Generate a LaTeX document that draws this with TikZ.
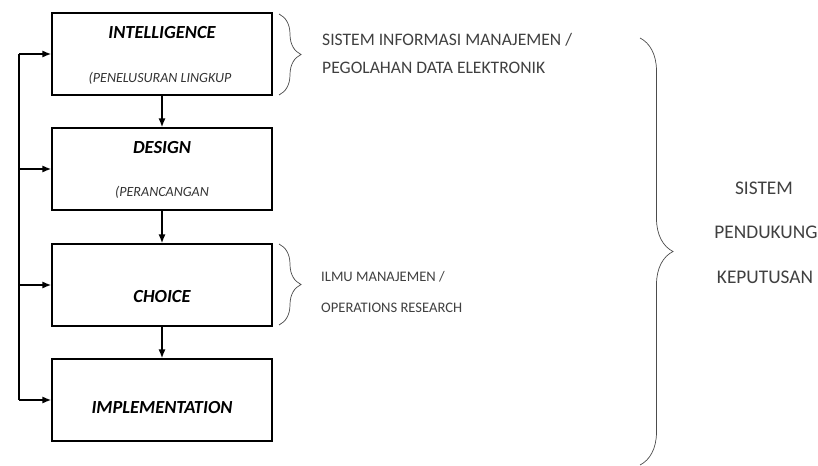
\documentclass[tikz,border=0pt]{standalone}
\usepackage{fontspec}
\setmainfont{Carlito}
\usetikzlibrary{decorations.pathreplacing,arrows.meta}

\begin{document}
\begin{tikzpicture}[x=0.02cm,y=-0.02cm,
tahap/.style={rectangle,draw,line width=0.9pt,minimum width=4.4cm,minimum height=1.64cm},
judul/.style={font=\fontsize{10.5}{12}\selectfont\bfseries\itshape},
sub/.style={font=\fontsize{8}{9}\selectfont\itshape,text=black!80},
ket/.style={anchor=west,font=\fontsize{10}{12}\selectfont,text=black!75},
panah/.style={-{Latex[length=5pt,width=4pt]},line width=0.8pt},
kurung/.style={decorate,draw=black!70,thin}]
\useasboundingbox (0,0) rectangle (818,466);
% kotak tahapan
\node [tahap] (intel) at (162,54) {};
\node [tahap] (design) at (162,169) {};
\node [tahap] (choice) at (162,285) {};
\node [tahap] (impl) at (162,400) {};
\node [judul] (intelj) at (162,33) {INTELLIGENCE};
\node [sub] (intels) at (160,78) {(PENELUSURAN LINGKUP};
\node [judul] (designj) at (162,148) {DESIGN};
\node [sub] (designs) at (162,192) {(PERANCANGAN};
\node [judul] (choicej) at (162,297) {CHOICE};
\node [judul] (implj) at (162,408) {IMPLEMENTATION};
% panah turun
\draw [panah] (intel) -- (design);
\draw [panah] (design) -- (choice);
\draw [panah] (choice) -- (impl);
% garis balik
\coordinate (balik) at (19,400);
\draw [line width=0.8pt] (intel.west -| balik) -- (balik);
\draw [panah] (intel.west -| balik) -- (intel.west);
\draw [panah] (design.west -| balik) -- (design.west);
\draw [panah] (choice.west -| balik) -- (choice.west);
\draw [panah] (balik) -- (impl.west);
% kurung kurawal
\coordinate (k1a) at (279,14);
\coordinate (k1b) at (279,95);
\draw [kurung,decoration={brace,amplitude=0.44cm}] (k1a) -- (k1b);
\node [ket] (sim) at (316,40) {SISTEM INFORMASI MANAJEMEN /};
\node [ket] (pde) at (316,68) {PEGOLAHAN DATA ELEKTRONIK};
\coordinate (k2a) at (279,244);
\coordinate (k2b) at (279,325);
\draw [kurung,decoration={brace,amplitude=0.44cm}] (k2a) -- (k2b);
\node [ket,font=\fontsize{8.3}{10}\selectfont] (ilmu) at (315,277) {ILMU MANAJEMEN /};
\node [ket,font=\fontsize{8.3}{10}\selectfont] (or) at (315,308) {OPERATIONS RESEARCH};
\coordinate (k3a) at (640,38);
\coordinate (k3b) at (640,465);
\draw [kurung,decoration={brace,amplitude=0.66cm}] (k3a) -- (k3b);
\node [ket,anchor=center,font=\fontsize{11}{13}\selectfont] (spk1) at (764,188) {SISTEM};
\node [ket,anchor=center,font=\fontsize{11}{13}\selectfont] (spk2) at (766,232) {PENDUKUNG};
\node [ket,anchor=center,font=\fontsize{11}{13}\selectfont] (spk3) at (765,277) {KEPUTUSAN};
\end{tikzpicture}
\end{document}
